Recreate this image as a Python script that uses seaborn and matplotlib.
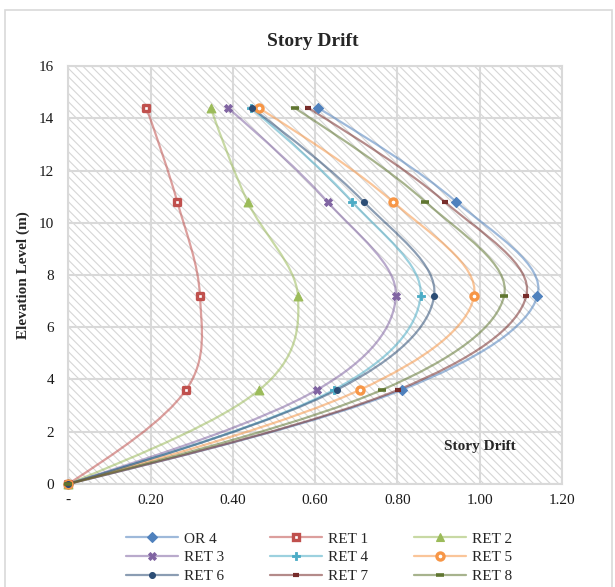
import numpy as np
import matplotlib
matplotlib.use("Agg")
import matplotlib.pyplot as plt
import seaborn as sns
from matplotlib.path import Path
from matplotlib.patches import PathPatch, Rectangle
from matplotlib.lines import Line2D
from matplotlib.colors import to_rgba

# Story drift values, by floor elevation
elevation = [0, 3.6, 7.2, 10.8, 14.4]
or4 = [0, 0.810, 1.140, 0.943, 0.607]
ret1 = [0, 0.286, 0.320, 0.265, 0.190]
ret2 = [0, 0.464, 0.558, 0.436, 0.346]
ret3 = [0, 0.604, 0.796, 0.630, 0.388]
ret4 = [0, 0.645, 0.856, 0.690, 0.444]
ret5 = [0, 0.708, 0.986, 0.789, 0.463]
ret6 = [0, 0.652, 0.889, 0.718, 0.446]
ret7 = [0, 0.801, 1.113, 0.915, 0.583]
ret8 = [0, 0.762, 1.059, 0.868, 0.550]

names = ["OR 4", "RET 1", "RET 2", "RET 3", "RET 4", "RET 5", "RET 6", "RET 7", "RET 8"]
drifts = [or4, ret1, ret2, ret3, ret4, ret5, ret6, ret7, ret8]
colors = ["#4f81bd", "#c0504d", "#9bbb59", "#8064a2", "#4bacc6",
          "#f79646", "#2c4d75", "#772c2a", "#5f7530"]

x_ticks = [0, 0.2, 0.4, 0.6, 0.8, 1.0, 1.2]
x_labels = ["-", "0.20", "0.40", "0.60", "0.80", "1.00", "1.20"]
y_ticks = [0, 2, 4, 6, 8, 10, 12, 14, 16]

# marker styles per series (marker, size, face, edge width)
styles = [
    ("D", 26, None, 0.8),
    ("s", 22, "white", 2.4),
    ("^", 40, None, 0.8),
    ("X", 34, None, 0.6),
    ("P", 34, None, 0.6),
    ("o", 26, "white", 2.4),
    ("o", 18, None, 0.8),
    ("_", 16, None, 3.0),
    ("_", 32, None, 2.6),
]


def smooth_path(xs, ys, tension=1 / 6):
    # excel style smoothed line: cubic bezier through the points,
    # natural ends (no bend at first/last point)
    pts = np.column_stack([xs, ys]).astype(float)
    n = len(pts)
    verts = [pts[0]]
    codes = [Path.MOVETO]
    for i in range(n - 1):
        p1 = pts[i]
        p2 = pts[i + 1]
        c1 = p1 + (p2 - pts[i - 1]) * tension if i > 0 else None
        c2 = p2 - (pts[i + 2] - p1) * tension if i < n - 2 else None
        if c1 is None:
            c1 = (p1 + c2) / 2
        if c2 is None:
            c2 = (p2 + c1) / 2
        verts += [c1, c2, p2]
        codes += [Path.CURVE4] * 3
    return Path(verts, codes)


sns.set_theme(style="white")
plt.rcParams["font.family"] = ["Liberation Serif", "DejaVu Serif"]
plt.rcParams["hatch.color"] = "#d6d6d6"
plt.rcParams["hatch.linewidth"] = 0.8

fig = plt.figure(figsize=(6.15, 5.87), dpi=100)
ax = fig.add_axes([0.111, 0.1755, 0.803, 0.712])

# hatched plot area
ax.patch.set_facecolor("white")
ax.patch.set_edgecolor("#d6d6d6")
ax.patch.set_hatch("\\\\\\\\")
ax.patch.set_linewidth(0)

line_alpha = 0.55
for name, vals, col, st in zip(names, drifts, colors, styles):
    patch = PathPatch(smooth_path(vals, elevation), facecolor="none",
                      edgecolor=to_rgba(col, line_alpha), lw=1.6, zorder=3)
    ax.add_patch(patch)
    marker, s, face, mew = st
    if marker == "_":
        sns.scatterplot(x=vals, y=elevation, marker=marker, s=s, color=col,
                        linewidth=mew, ax=ax, zorder=4, clip_on=False)
    else:
        sns.scatterplot(x=vals, y=elevation, marker=marker, s=s,
                        facecolor=face if face else col, edgecolor=col,
                        linewidth=mew, ax=ax, zorder=4, clip_on=False)

ax.set_xlim(0, 1.2)
ax.set_ylim(0, 16)
ax.set_xticks(x_ticks)
ax.set_xticklabels(x_labels)
ax.set_yticks(y_ticks)
ax.tick_params(axis="x", length=0, pad=7, labelsize=11, colors="#1a1a1a")
ax.tick_params(axis="y", length=0, pad=10, labelsize=11, colors="#1a1a1a")
ax.grid(True, color="#d9d9d9", lw=1.5)
ax.set_axisbelow(True)
for sp in ax.spines.values():
    sp.set_color("#d9d9d9")
    sp.set_linewidth(1.5)

ax.set_ylabel("Elevation Level (m)", fontsize=11, fontweight="bold")
ax.yaxis.set_label_coords(-0.077, 0.5)
ax.text(1.0, 1.45, "Story Drift", fontsize=11, fontweight="bold",
        ha="center", va="center", zorder=5)

fig.text(0.509, 0.929, "Story Drift", fontsize=14, fontweight="bold",
         ha="center", va="center")

# chart border
fig.patches.append(Rectangle((5 / 615, -0.01), 607 / 615, 1 - 10 / 587 + 0.01,
                             transform=fig.transFigure, fill=False,
                             edgecolor="#d9d9d9", lw=1.2))

handles = []
for name, col, st in zip(names, colors, styles):
    marker, s, face, mew = st
    if marker == "_":
        h = Line2D([], [], color=to_rgba(col, line_alpha), lw=1.6, marker=marker,
                   markersize=np.sqrt(s), markeredgecolor=col, markeredgewidth=mew)
    else:
        h = Line2D([], [], color=to_rgba(col, line_alpha), lw=1.6, marker=marker,
                   markersize=np.sqrt(s), markerfacecolor=face if face else col,
                   markeredgecolor=col, markeredgewidth=mew)
    handles.append(h)

# legend fills row by row, matplotlib fills columns -> reorder
order = [0, 3, 6, 1, 4, 7, 2, 5, 8]
fig.legend([handles[i] for i in order], [names[i] for i in order],
           loc="center", bbox_to_anchor=(0.519, 0.050), ncol=3,
           frameon=False, fontsize=11, handlelength=3.4, handletextpad=0.4,
           columnspacing=3.0, labelspacing=0.33)

fig.savefig("out.png", dpi=100)
